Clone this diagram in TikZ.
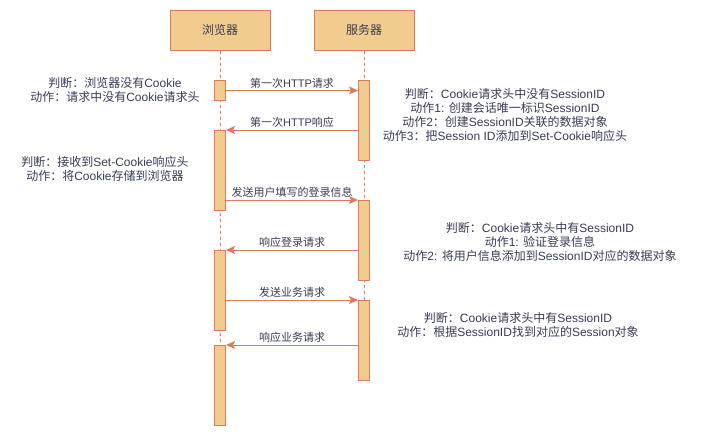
\documentclass[tikz,border=0pt]{standalone}
\usepackage{fontspec}
\setmainfont{Noto Sans CJK SC}
\newfontfamily\latfont{Liberation Sans}
\newcommand{\lt}[1]{{\latfont #1}}
\usetikzlibrary{arrows.meta,calc}
\definecolor{boxfill}{HTML}{F2CC8F}
\definecolor{boxline}{HTML}{E07A5F}
\definecolor{txt}{HTML}{393C56}
\begin{document}
\begin{tikzpicture}[x=1pt,y=-1pt,
  font=\fontsize{12}{14}\selectfont, text=txt,
  header/.style={draw=boxline, fill=boxfill, line width=1pt, minimum width=100pt, minimum height=40pt, inner sep=0pt, font=\fontsize{12}{14}\selectfont},
  actbox/.style={draw=boxline, fill=boxfill, line width=1pt, minimum width=11pt, inner sep=0pt, anchor=north},
  life/.style={draw=boxline, dash pattern=on 3pt off 3pt, line width=0.8pt},
  msg/.style={draw=boxline, line width=1pt, -{Stealth[length=9pt,width=8pt,inset=2pt]}},
  lbl/.style={above=1pt, inner sep=1pt, font=\fontsize{11}{13}\selectfont},
  note/.style={align=center, inner sep=0pt}
]
\useasboundingbox (0,0) rectangle (702,437);
\fill[white] (0,0) rectangle (702,437);

\node[header] (br) at (220,30) {浏览器};
\node[header] (sv) at (364,30) {服务器};

\coordinate (brend) at (220,425);
\coordinate (svend) at (364,380);
\draw[life] (br.south) -- (brend);
\draw[life] (sv.south) -- (svend);

\node[actbox, minimum height=20pt] (b1) at (220,80) {};
\node[actbox, minimum height=80pt] (b2) at (220,130) {};
\node[actbox, minimum height=80pt] (b3) at (220,250) {};
\node[actbox, minimum height=80pt] (b4) at (220,345) {};
\node[actbox, minimum height=80pt] (s1) at (364,80) {};
\node[actbox, minimum height=80pt] (s2) at (364,200) {};
\node[actbox, minimum height=80pt] (s3) at (364,300) {};

\draw[msg] (b1.east) -- node[lbl] {第一次\lt{HTTP}请求} (b1.east -| s1.west);
\draw[msg] (s1.west |- b2.north) -- node[lbl] {第一次\lt{HTTP}响应} (b2.north east);
\draw[msg] (b2.east |- s2.north) -- node[lbl] {发送用户填写的登录信息} (s2.north west);
\draw[msg] (s2.west |- b3.north) -- node[lbl] {响应登录请求} (b3.north east);
\draw[msg] (b3.east |- s3.north) -- node[lbl] {发送业务请求} (s3.north west);
\draw[msg] (s3.west |- b4.north) -- node[lbl] {响应业务请求} (b4.north east);

\node[note] (n1) at (115,90) {判断：浏览器没有\lt{Cookie}\\动作：请求中没有\lt{Cookie}请求头};
\node[note] (n2) at (105,169) {判断：接收到\lt{Set-Cookie}响应头\\动作：将\lt{Cookie}存储到浏览器};
\node[note] (n3) at (505,115) {判断：\lt{Cookie}请求头中没有\lt{SessionID}\\动作\lt{1: }创建会话唯一标识\lt{SessionID}\\动作\lt{2}：创建\lt{SessionID}关联的数据对象\\动作\lt{3}：把\lt{Session ID}添加到\lt{Set-Cookie}响应头};
\node[note] (n4) at (540,242) {判断：\lt{Cookie}请求头中有\lt{SessionID}\\动作\lt{1: }验证登录信息\\动作\lt{2: }将用户信息添加到\lt{SessionID}对应的数据对象};
\node[note] (n5) at (518,325) {判断：\lt{Cookie}请求头中有\lt{SessionID}\\动作：根据\lt{SessionID}找到对应的\lt{Session}对象};
\end{tikzpicture}
\end{document}
